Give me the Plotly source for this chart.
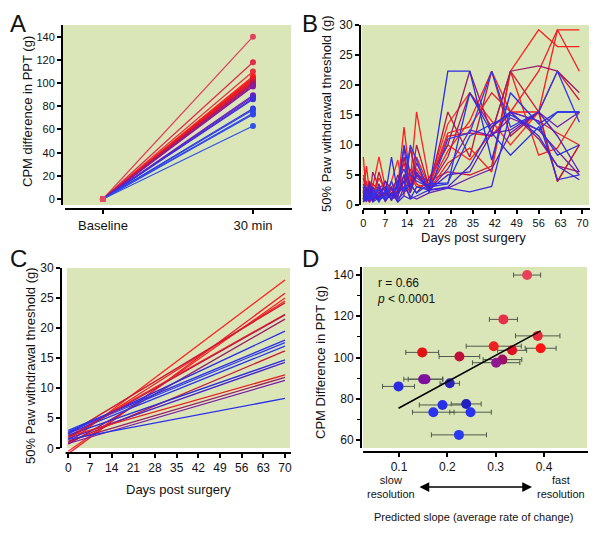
import plotly.graph_objects as go

FONT = "Liberation Sans, Arial, sans-serif"
GREEN = "#dae6b7"

# ---------------- Panel A data ----------------
a_labels = ["Baseline", "30 min"]
a_values = [140, 118, 110, 106, 105, 104, 103.5, 103, 102, 101, 100, 99, 98, 97,
            89.5, 88.5, 87, 86, 78, 77, 74, 73, 63]
a_colors = ["#e0405a", "#e02a45", "#e8303c", "#f02424", "#ff1a1a", "#ff2020", "#f01818",
            "#e81828", "#e01830", "#d01838", "#c01848", "#a81860", "#9a1a80", "#8a1aa0",
            "#7a1ab8", "#6420c8", "#4a28d8", "#3a30e0", "#3038e8", "#3040ec", "#3048ee",
            "#3048ee", "#3050e8"]

# ---------------- Panel B data ----------------
b_days = [0, 1, 2, 3, 5, 7, 9, 11, 13, 15, 17, 21, 27, 34, 41, 47, 56, 62, 69]
b_series = [
    [8, 1.5, 0.8, 3, 2, 1, 2, 3, 13, 4, 6, 3, 9, 14, 22.3, 15.5, 15.5, 29.2, 29.2],
    [1, 4, 1.5, 3, 8, 3, 1, 2.5, 5, 4, 15.5, 4, 10, 7.5, 12, 22.3, 29.2, 26.4, 26.4],
    [2, 6.5, 2, 1, 3, 1.5, 3, 4, 7, 3, 8, 3, 11.5, 12, 11.5, 15.5, 22.3, 29.2, 22.3],
    [0.5, 1, 0.5, 2, 1, 2, 4, 7.5, 1.5, 9.5, 5, 3.5, 13.5, 18.7, 14, 10, 15.5, 4, 10],
    [4.5, 2, 3, 0.5, 2, 1, 2.5, 3, 4, 2, 5, 4, 5.5, 5, 6.5, 22.3, 15.5, 22.3, 17.5],
    [3, 0.7, 1.5, 3.5, 2.5, 4, 1, 2, 3, 6, 3.5, 2.5, 7, 9.5, 5.5, 22.3, 8.3, 9.5, 15.5],
    [1.5, 3, 0.6, 1, 5.5, 2, 3, 1, 8, 3, 10, 3, 15.5, 8, 22.3, 11.5, 15.5, 3.9, 10],
    [2.5, 1, 4, 2, 1.5, 3, 1.5, 5, 2, 3.5, 2, 4.5, 10, 22.3, 12, 22.3, 23.2, 22.3, 18.7],
    [0.8, 2, 1, 5.5, 3, 0.6, 2, 1.5, 4, 9.5, 4.5, 3, 8, 18.7, 13, 15.5, 11, 6.5, 5.5],
    [5, 3.5, 2, 1.5, 4.5, 2.5, 1, 3.5, 2, 5, 3, 3.5, 12, 13, 18.7, 15.5, 14, 12, 10],
    [3, 1.2, 0.5, 2.5, 1, 4, 2.5, 2, 9.5, 2, 7, 2.5, 6, 12.5, 11.5, 14.5, 12.5, 9, 5],
    [1, 2.5, 2, 0.7, 3.5, 1, 3, 0.5, 3, 1.5, 1, 2, 2.8, 4.5, 6, 12, 15.5, 13, 15.5],
    [2, 0.5, 3.5, 1, 2, 3, 0.7, 4, 6, 3, 5, 2.5, 3, 6.5, 13, 15.5, 11.5, 6.5, 4.2],
    [0.5, 2, 1, 3, 0.8, 1.5, 8, 2, 4, 1, 3, 2.5, 22.3, 22.3, 7.5, 18.7, 13.5, 15.5, 15.5],
    [1.5, 0.8, 2.5, 0.5, 1.2, 2, 1.5, 3, 10, 5, 4, 3, 3.5, 18.7, 12, 8.3, 13, 8.3, 10],
    [3.5, 2, 1, 1.5, 3, 0.8, 4, 1, 2, 10, 7.5, 2, 11, 12, 22.3, 13, 15.5, 22.3, 13.8],
    [2.5, 1.5, 0.8, 2, 0.5, 2.5, 1, 2, 3, 3.5, 2, 3.5, 3.7, 11.5, 13.5, 15, 12.5, 15.5, 15.5],
    [0.6, 1, 2, 1, 2.5, 0.7, 2, 0.5, 1.5, 1, 1.5, 2.5, 2.8, 2.2, 3.1, 15.5, 14, 4.2, 5],
    [1, 3, 1.5, 0.8, 1.5, 2, 1, 1.5, 5, 2.5, 5.5, 2.5, 5, 5.5, 12, 12.5, 15.5, 11.5, 5.5],
]
b_colors = ["#ff1a1a", "#ff2020", "#f01c28", "#ff2a2a", "#d01838", "#f02020", "#b81840",
            "#9a1a6a", "#a01a70", "#e82030", "#7a1ab0", "#701ab8", "#4a22d0", "#2a2ae8",
            "#2a30e8", "#3038f0", "#2a34ee", "#3a2ae0", "#5020c8"]

# ---------------- Panel C data ----------------
c_days = [0, 70]
c_start = [0.9, -0.9, -0.5, 1.5, 2.4, 2.0, 0.7, 2.6, 3.0, 2.8, 2.5, 1.0, 2.2, 1.6, 2.0, 1.2, 0.8, 1.5, 1.8]
c_end = [28, 25.8, 25, 24.5, 24.2, 22.3, 21.5, 19.5, 18, 17.6, 17, 16.2, 14.7, 14.3, 12.2, 11.8, 11.3, 8.3, 22.2]
c_colors = ["#ff1a1a", "#f01a2a", "#ff2020", "#f02020", "#d01838", "#ff2424", "#9a1a70",
            "#2a2ae8", "#2a30ec", "#3038f0", "#2a34ee", "#c81838", "#2a2ae0", "#4a22d0",
            "#e82020", "#9a1a6a", "#7a1ab0", "#2a30e8", "#b81850"]

# ---------------- Panel D data ----------------
d_slope = [0.365, 0.316, 0.387, 0.296, 0.393, 0.334, 0.148, 0.225, 0.314, 0.301,
           0.150, 0.155, 0.205, 0.099, 0.239, 0.190, 0.171, 0.248, 0.224]
d_cpm = [140, 118.5, 110.5, 105.5, 104.5, 103.5, 102.5, 100.5, 99, 97.5,
         89.5, 89.5, 87.5, 86, 77.5, 77, 73.5, 73.5, 62.5]
d_err = [0.028, 0.029, 0.046, 0.057, 0.032, 0.030, 0.034, 0.042, 0.040, 0.049,
         0.040, 0.036, 0.020, 0.033, 0.031, 0.048, 0.043, 0.043, 0.057]
d_colors = ["#e8405a", "#e83048", "#e82838", "#ee2020", "#ff1414", "#e01020", "#e01414",
            "#c0103a", "#a01060", "#901890", "#7a10a0", "#8010a0", "#3020c0", "#2a2ae0",
            "#2020c0", "#2a30e8", "#2a34f0", "#2a34f0", "#2a3aee"]
fit_x = [0.099, 0.393]
fit_y = [75.4, 112.9]

# page has an 8px body margin: size the figure to fit the window
OFF = 8
W, H = 600 - OFF, 540 - OFF

def px(x, y):
    return (x - OFF) / W, 1 - (y - OFF) / H

def xdom(x0, x1):
    return [px(x0, 0)[0], px(x1, 0)[0]]

def ydom(top, bottom):
    return [px(0, bottom)[1], px(0, top)[1]]

fig = go.Figure()

# Panel A
for v, col in zip(a_values, a_colors):
    fig.add_trace(go.Scatter(x=[0, 1], y=[0, v], mode="lines+markers",
                             line=dict(color=col, width=1.2),
                             marker=dict(color=["#e84860", col], size=6),
                             xaxis="x", yaxis="y", showlegend=False))

# Panel B
for ser, col in zip(b_series, b_colors):
    fig.add_trace(go.Scatter(x=b_days, y=ser, mode="lines",
                             line=dict(color=col, width=1.3),
                             xaxis="x2", yaxis="y2", showlegend=False))

# Panel C
for s, e, col in zip(c_start, c_end, c_colors):
    fig.add_trace(go.Scatter(x=c_days, y=[s, e], mode="lines",
                             line=dict(color=col, width=1.3),
                             xaxis="x3", yaxis="y3", showlegend=False))

# Panel D
fig.add_trace(go.Scatter(x=d_slope, y=d_cpm, mode="markers",
                         marker=dict(color=d_colors, size=10),
                         error_x=dict(type="data", array=d_err, color="#4d5a4d",
                                      thickness=1, width=2.5),
                         xaxis="x4", yaxis="y4", showlegend=False))
fig.add_trace(go.Scatter(x=fit_x, y=fit_y, mode="lines",
                         line=dict(color="black", width=1.5),
                         xaxis="x4", yaxis="y4", showlegend=False))

tick_common = dict(showgrid=False, zeroline=False, showline=False, ticks="outside",
                   ticklen=4, tickwidth=1.5, tickcolor="black", automargin=False,
                   tickfont=dict(family=FONT, size=12, color="#111"))

fig.update_layout(
    width=W, height=H, margin=dict(l=0, r=0, t=0, b=0),
    paper_bgcolor="white", plot_bgcolor="white",
    font=dict(family=FONT, color="#111"),
    xaxis=dict(domain=xdom(62, 292), range=[-0.273, 1.26], tickvals=[0, 1],
               ticktext=a_labels, **{**tick_common, "tickfont": dict(family=FONT, size=13, color="#111")}),
    yaxis=dict(domain=ydom(25, 209), range=[-8.6, 150.1], tickvals=list(range(0, 141, 20)),
               **{**tick_common, "tickfont": dict(family=FONT, size=11, color="#111")}),
    xaxis2=dict(domain=xdom(360, 590), range=[-1.06, 72.4], tickvals=list(range(0, 71, 7)),
                anchor="y2", **{**tick_common, "tickfont": dict(family=FONT, size=11, color="#111")}),
    yaxis2=dict(domain=ydom(25, 209), range=[-0.67, 30], tickvals=list(range(0, 31, 5)),
                anchor="x2", **tick_common),
    xaxis3=dict(domain=xdom(61, 291), range=[-2.36, 71.95], tickvals=list(range(0, 71, 7)),
                anchor="y3", **tick_common),
    yaxis3=dict(domain=ydom(268, 453), range=[-0.78, 30], tickvals=list(range(0, 31, 5)),
                anchor="x3", **tick_common),
    xaxis4=dict(domain=xdom(361, 588), range=[0.0214, 0.491], tickvals=[0.1, 0.2, 0.3, 0.4],
                ticktext=["0.1", "0.2", "0.3", "0.4"], anchor="y4", **tick_common),
    yaxis4=dict(domain=ydom(267, 452), range=[54.2, 143.9], tickvals=list(range(60, 141, 20)),
                anchor="x4", minor=dict(tickvals=list(range(70, 141, 20)), ticks="outside",
                                        ticklen=3, tickcolor="black", tickwidth=1),
                **tick_common),
)

# backgrounds and separated axis lines
panels = [("x", "y", 0.004, 0.022, 0.013), ("x2", "y2", 0.007, 0.022, 0.013),
          ("x3", "y3", 0.025, 0.027, 0.02), ("x4", "y4", 0.009, 0.022, 0.009)]
shapes = []
for xa, ya, gx0, gy0, lx0 in panels:
    shapes.append(dict(type="rect", xref=f"{xa} domain", yref=f"{ya} domain",
                       x0=gx0, x1=0.996, y0=gy0, y1=1, fillcolor=GREEN,
                       line=dict(width=0), layer="below"))
    shapes.append(dict(type="line", xref=f"{xa} domain", yref=f"{ya} domain",
                       x0=0, x1=0, y0=gy0, y1=1, line=dict(color="black", width=2)))
    shapes.append(dict(type="line", xref=f"{xa} domain", yref=f"{ya} domain",
                       x0=lx0, x1=1, y0=0, y1=0, line=dict(color="black", width=2)))
fig.update_layout(shapes=shapes)

ann = []
def add_text(text, x, y, size=13, angle=0, xanchor="center", yanchor="middle", align="center"):
    xp, yp = px(x, y)
    ann.append(dict(text=text, x=xp, y=yp, xref="paper", yref="paper", showarrow=False,
                    textangle=angle, xanchor=xanchor, yanchor=yanchor, align=align,
                    font=dict(family=FONT, size=size, color="#111")))

add_text("A", 8, 8, size=24, xanchor="left", yanchor="top")
add_text("B", 300, 8, size=24, xanchor="left", yanchor="top")
add_text("C", 8, 258, size=24, xanchor="left")
add_text("D", 300, 258, size=24, xanchor="left")
add_text("CPM difference in PPT (g)", 27, 112, size=13, angle=-90)
add_text("50% Paw withdrawal threshold (g)", 326, 114, size=13, angle=-90)
add_text("Days post surgery", 473, 237.5, size=13)
add_text("50% Paw withdrawal threshold (g)", 30, 366, size=13, angle=-90)
add_text("Days post surgery", 178, 489, size=13)
add_text("CPM Difference in PPT (g)", 320, 362, size=13, angle=-90)
add_text("r = 0.66<br><i>p</i> < 0.0001", 375, 291, size=12, xanchor="left", align="left")
add_text("slow<br>resolution", 391, 487, size=11)
add_text("fast<br>resolution", 561, 487, size=11)
add_text("Predicted slope (average rate of change)", 473, 517, size=11)

x1p, yp = px(532, 487)
ann.append(dict(x=x1p, y=yp, ax=-114, ay=0, xref="paper", yref="paper",
                axref="pixel", ayref="pixel", text="", showarrow=True,
                arrowhead=2, arrowside="end+start", arrowsize=1.3, arrowwidth=1.5,
                arrowcolor="black"))
fig.update_layout(annotations=ann)

fig.write_html("out.html")
